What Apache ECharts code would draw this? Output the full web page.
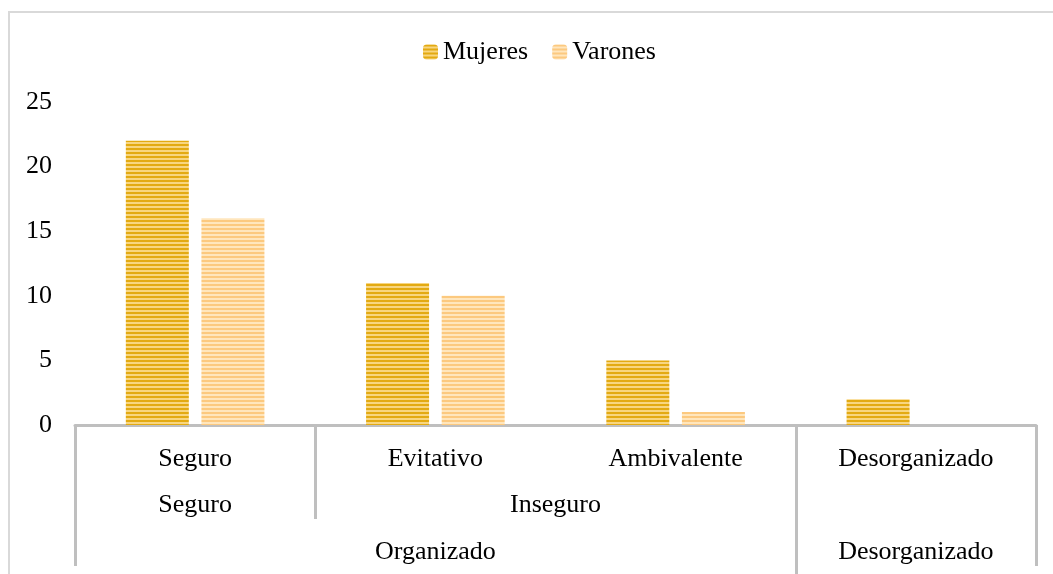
<!DOCTYPE html>
<html>
<head>
<meta charset="utf-8">
<script src="https://cdn.jsdelivr.net/npm/echarts@6/dist/echarts.min.js"></script>
<style>
  html, body { margin: 0; padding: 0; background: #fff; }
  .frame {
    position: absolute; left: 8px; top: 11px; width: 1045px; height: 563px;
    border-left: 2px solid #d9d9d9; border-top: 2px solid #d9d9d9;
  }
  #chart { position: absolute; left: 0; top: 0; width: 1053px; height: 574px; }
</style>
</head>
<body>
<div class="frame"></div>
<div id="chart"></div>
<script>
  // categories (3 levels) and values
  const categories = ['Seguro', 'Evitativo', 'Ambivalente', 'Desorganizado'];
  const level2 = ['Seguro', 'Inseguro', ''];
  const level2Spans = [1, 2, 1];
  const level3 = ['Organizado', 'Desorganizado'];
  const level3Spans = [3, 1];
  const mujeres = [22, 11, 5, 2];
  const varones = [16, 10, 1, 0];
  const yTicks = [0, 5, 10, 15, 20, 25];

  // centres of grouped labels, in category units
  function groupCenters(spans) {
    let start = 0, out = [];
    spans.forEach(s => { out.push(start + s / 2); start += s; });
    return out;
  }
  const l2Pos = groupCenters(level2Spans);
  const l3Pos = groupCenters(level3Spans);

  function stripes(dark, light) {
    const c = document.createElement('canvas');
    c.width = 4; c.height = 4;
    const g = c.getContext('2d');
    g.fillStyle = light; g.fillRect(0, 0, 4, 4);
    g.fillStyle = dark; g.fillRect(0, 0, 4, 2);
    return { image: c, repeat: 'repeat' };
  }

  const font = { fontFamily: 'Liberation Serif', fontSize: 26, color: '#000' };
  const gridLine = { color: '#bfbfbf', width: 3 };

  function lookup(pos, names) {
    return v => {
      const i = pos.findIndex(p => Math.abs(p - v) < 1e-6);
      return i >= 0 ? names[i] : '';
    };
  }

  const myChart = echarts.init(document.getElementById('chart'));
  myChart.setOption({
    animation: false,
    legend: {
      left: 418, top: 34,
      itemWidth: 15, itemHeight: 15, itemGap: 24,
      textStyle: { ...font },
      data: ['Mujeres', 'Varones']
    },
    grid: { left: 75, right: 17, top: 102, bottom: 149 },
    xAxis: [
      {
        type: 'category', data: categories, position: 'bottom',
        axisLine: { lineStyle: gridLine },
        axisTick: { show: false },
        axisLabel: { ...font, margin: 21, interval: 0 }
      },
      {
        type: 'value', min: 0, max: 4, position: 'bottom',
        axisLine: { show: false }, splitLine: { show: false },
        axisTick: { show: true, customValues: [0, 4], length: 141, lineStyle: gridLine },
        axisLabel: { ...font, margin: 114, customValues: l3Pos, formatter: lookup(l3Pos, level3) }
      },
      {
        type: 'value', min: 0, max: 4, position: 'bottom',
        axisLine: { show: false }, splitLine: { show: false },
        axisTick: { show: true, customValues: [1], length: 94, lineStyle: gridLine },
        axisLabel: { ...font, margin: 67, customValues: l2Pos, formatter: lookup(l2Pos, level2) }
      },
      {
        type: 'value', min: 0, max: 4, position: 'bottom',
        axisLine: { show: false }, splitLine: { show: false },
        axisTick: { show: true, customValues: [3], length: 150, lineStyle: gridLine },
        axisLabel: { show: false }
      }
    ],
    yAxis: {
      type: 'value', min: yTicks[0], max: yTicks[yTicks.length - 1], interval: 5,
      axisLine: { show: false }, axisTick: { show: false }, splitLine: { show: false },
      axisLabel: { ...font, margin: 23, padding: [5, 0, 0, 0] }
    },
    series: [
      {
        name: 'Mujeres', type: 'bar', data: mujeres, barWidth: 63, barGap: '20%',
        itemStyle: { color: stripes('#e3aa12', '#f8d680') }
      },
      {
        name: 'Varones', type: 'bar', data: varones, barWidth: 63, barGap: '20%',
        itemStyle: { color: stripes('#fcc97f', '#ffe6bd') }
      }
    ]
  });
</script>
</body>
</html>
